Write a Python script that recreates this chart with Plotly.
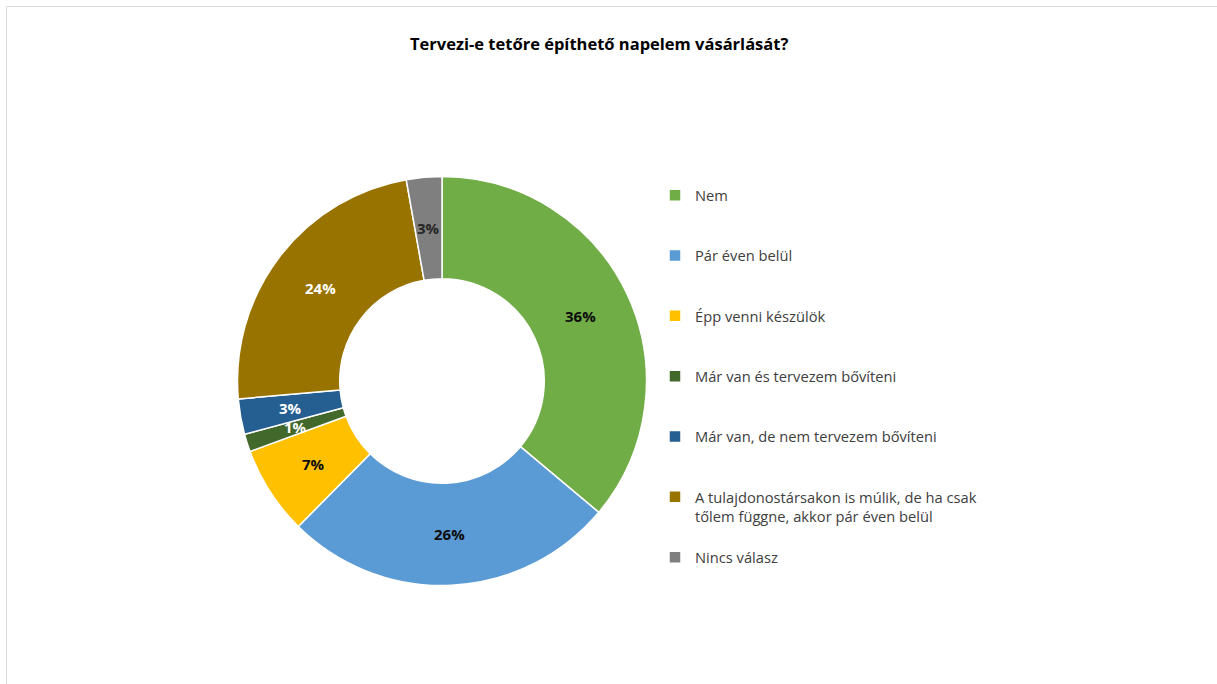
import math
import plotly.graph_objects as go

title = "Tervezi-e tetőre építhető napelem vásárlását?"
categories = [
    "Nem",
    "Pár éven belül",
    "Épp venni készülök",
    "Már van és tervezem bővíteni",
    "Már van, de nem tervezem bővíteni",
    "A tulajdonostársakon is múlik, de ha csak<br>tőlem függne, akkor pár éven belül",
    "Nincs válasz",
]
values = [36.1, 26.3, 7.0, 1.4, 2.8, 23.6, 2.8]
colors = ["#70AD47", "#5B9BD5", "#FFC000", "#43682B", "#255E91", "#997300", "#7F7F7F"]
text_colors = ["#0d0d0d", "#0d0d0d", "#0d0d0d", "#ffffff", "#ffffff", "#ffffff", "#262626"]

W, H = 1217, 684
NB = "\u00a0"

def legend_label(c):
    if "<br>" in c:
        return NB + "<br>" + c
    return NB + "<br>" + c + "<br>" + NB

labels = [legend_label(c) for c in categories]

# pie geometry (pixels)
cx, cy, r = 442, 381, 204.5
hole = 0.5

fig = go.Figure()
fig.add_trace(go.Pie(
    labels=labels,
    values=values,
    sort=False,
    direction="clockwise",
    rotation=0,
    hole=hole,
    marker=dict(colors=colors, line=dict(color="#ffffff", width=1.5)),
    textinfo="none",
    hoverinfo="percent",
    domain=dict(x=[(cx - r) / W, (cx + r) / W], y=[1 - (cy + r) / H, 1 - (cy - r) / H]),
))

# data labels at mid-ring, like the original
total = sum(values)
rm = r * (1 + hole) / 2
annotations = []
cum = 0.0
for v, tc in zip(values, text_colors):
    th = 2 * math.pi * (cum + v / 2) / total
    cum += v
    px = cx + rm * math.sin(th)
    py = cy - rm * math.cos(th)
    annotations.append(dict(
        text="<b>%d%%</b>" % round(v / total * 100),
        x=px / W, y=1 - py / H, xref="paper", yref="paper",
        xanchor="center", yanchor="middle", showarrow=False,
        font=dict(family="Open Sans", size=15, color=tc),
    ))

annotations.append(dict(
    text="<b>" + title + "</b>", x=599 / W, y=1 - 43 / H, xref="paper", yref="paper",
    xanchor="center", yanchor="middle", showarrow=False,
    font=dict(family="Open Sans", size=16.5, color="#000000"),
))

fig.update_layout(
    width=W, height=H,
    margin=dict(l=0, r=0, t=0, b=0),
    paper_bgcolor="#ffffff",
    plot_bgcolor="#ffffff",
    showlegend=True,
    legend=dict(
        x=655 / W, y=1 - 160 / H, xanchor="left", yanchor="top",
        font=dict(family="Open Sans", size=14.7, color="#404040"),
        valign="middle",
        bgcolor="rgba(0,0,0,0)",
    ),
    annotations=annotations,
    shapes=[dict(
        type="rect", xref="paper", yref="paper",
        x0=6.5 / W, x1=1.2, y0=-0.2, y1=1 - 6.5 / H,
        line=dict(color="#d9d9d9", width=1),
    )],
)

fig.write_html("out.html", config={"displayModeBar": False},
               post_script="document.body.style.margin='0';")
